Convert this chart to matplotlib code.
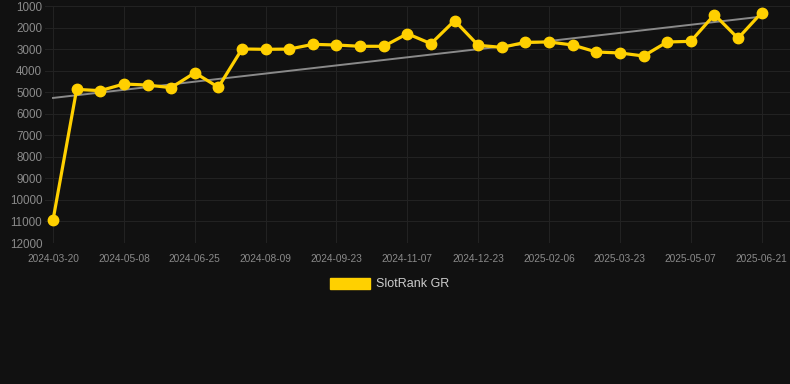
import numpy as np
import matplotlib
matplotlib.use("Agg")
import matplotlib.pyplot as plt
from matplotlib.patches import Patch

# rank values, one point per sample (31 samples)
ranks = [10930, 4870, 4930, 4620, 4670, 4790, 4100, 4770, 2995, 3010,
         3000, 2780, 2810, 2870, 2870, 2285, 2750, 1680, 2825, 2920,
         2685, 2670, 2810, 3135, 3180, 3320, 2670, 2640, 1400, 2500, 1310]
tick_labels = ["2024-03-20", "2024-05-08", "2024-06-25", "2024-08-09",
               "2024-09-23", "2024-11-07", "2024-12-23", "2025-02-06",
               "2025-03-23", "2025-05-07", "2025-06-21"]
y_ticks = [1000, 2000, 3000, 4000, 5000, 6000, 7000, 8000, 9000, 10000, 11000, 12000]
series_name = "SlotRank GR"

bg = "#111111"
gold = "#FFD000"
plt.rcParams['font.family'] = ['Liberation Sans', 'DejaVu Sans']

fig = plt.figure(figsize=(7.9, 3.84), dpi=100, facecolor=bg)
ax = fig.add_axes([45/790, 1 - 243/384, 1 - 45/790, 237/384])
ax.set_facecolor(bg)

x = np.arange(len(ranks))
# linear trend over the whole series
k, b = np.polyfit(x, ranks, 1)
ax.plot(x, k*x + b, color="#8a8a8a", lw=1.4, zorder=2)
ax.plot(x, ranks, color=gold, lw=2.3, marker="o", ms=7.5, zorder=3)

ax.set_ylim(12000, 1000)
ax.set_xlim(-0.34, 31.2)
ax.set_yticks(y_ticks)
ax.set_yticklabels([str(v) for v in y_ticks])
ax.set_xticks(x[::3])
ax.set_xticklabels(tick_labels)

ax.grid(True, color="#222222", lw=0.8)
ax.set_axisbelow(True)
for s in ax.spines.values():
    s.set_visible(False)
ax.tick_params(axis="y", length=0, pad=2, labelsize=8.4, labelcolor="#8a8a8a")
ax.tick_params(axis="x", length=0, pad=8, labelsize=7.3, labelcolor="#8a8a8a")

fig.legend(handles=[Patch(color=gold, label=series_name)], loc="center",
           bbox_to_anchor=(390/790, 1 - 284/384), frameon=False,
           fontsize=9, labelcolor="#cccccc", handlelength=3.2,
           handleheight=1.0, handletextpad=0.5)

fig.savefig("out.png", dpi=100, facecolor=bg)
